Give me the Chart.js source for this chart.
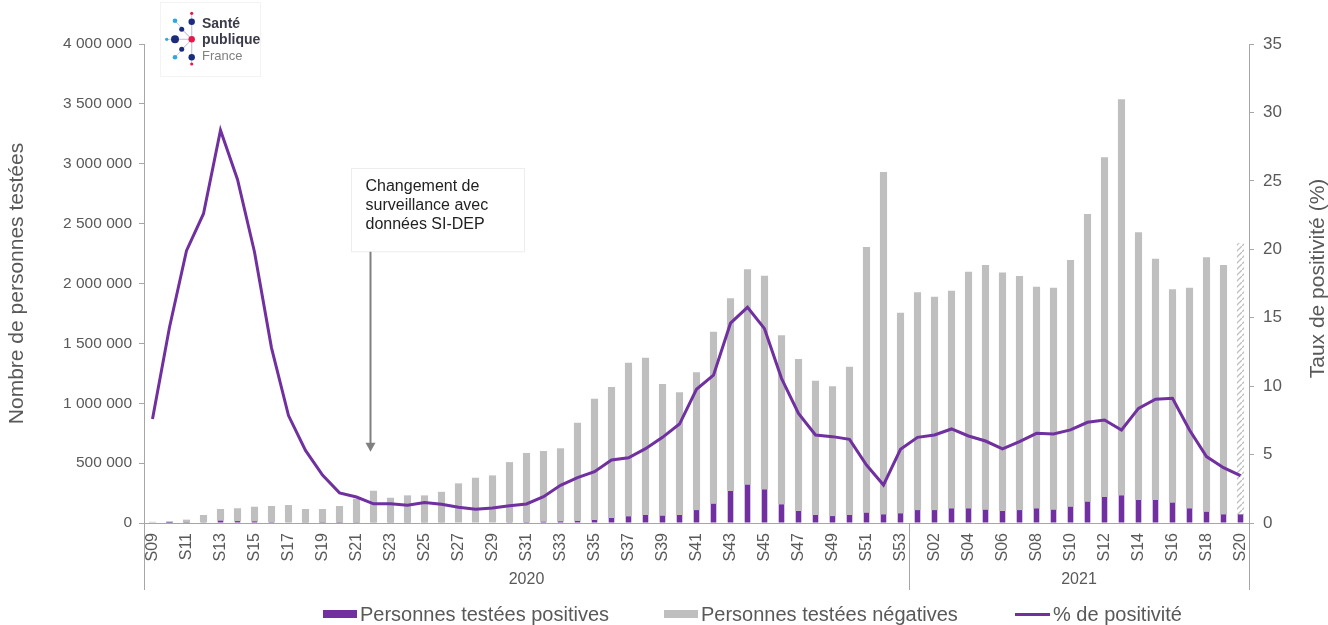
<!DOCTYPE html>
<html>
<head>
<meta charset="utf-8">
<script src="https://cdn.jsdelivr.net/npm/chart.js@4.4.0/dist/chart.umd.min.js"></script>
<style>
  body { margin: 0; background: #fff; }
  #wrap { position: relative; width: 1328px; height: 625px; }
  #legend { position: absolute; left: 0; top: 603px; width: 1328px; height: 22px;
            font: 20px 'Liberation Sans', Arial, sans-serif; color: #595959; line-height: 22px; }
  #legend .item { position: absolute; top: 0; display: flex; align-items: center; white-space: nowrap; }
  #legend .sw { width: 34px; height: 8px; margin-right: 3px; }
  #legend .ln { width: 35px; height: 3px; margin-right: 3px; background: #7030A0; }
</style>
</head>
<body>
<div id="wrap">
  <canvas id="myChart" width="1328" height="625"></canvas>
  <div id="legend">
    <div class="item" style="left:323px"><span class="sw" style="background:#7030A0"></span>Personnes testées positives</div>
    <div class="item" style="left:664px"><span class="sw" style="background:#BFBFBF"></span>Personnes testées négatives</div>
    <div class="item" style="left:1015px"><span class="ln"></span>% de positivité</div>
  </div>
</div>
<script>
// weeks: 2020 S09..S53, 2021 S01..S20
var weeks2020 = ['S09','S10','S11','S12','S13','S14','S15','S16','S17','S18','S19','S20','S21','S22','S23','S24','S25','S26','S27','S28','S29','S30','S31','S32','S33','S34','S35','S36','S37','S38','S39','S40','S41','S42','S43','S44','S45','S46','S47','S48','S49','S50','S51','S52','S53']
var weeks2021 = ['S01','S02','S03','S04','S05','S06','S07','S08','S09','S10','S11','S12','S13','S14','S15','S16','S17','S18','S19','S20']
var years = ['2020', '2021']

var positives = [
  0, 500, 2000, 6000, 20000, 16000, 14000, 8000, 5000, 3000,
  2000, 2000, 2500, 3500, 3000, 3000, 3500, 3500, 4000, 4000,
  4500, 6500, 8000, 11000, 14000, 17000, 25000, 42000, 56000, 67000,
  61000, 67000, 108000, 161000, 267000, 320000, 281000, 156000, 100000, 67000,
  58000, 67000, 86000, 72000, 81000,
  108000, 108000, 122000, 122000, 111000, 100000, 108000, 122000, 111000, 136000,
  178000, 217000, 231000, 192000, 192000, 170000, 122000, 94000, 72000, 72000
]
var negatives = [
  10000, 14500, 26000, 61000, 97000, 107000, 122000, 134000, 145000, 114000,
  115000, 140000, 200000, 266000, 208000, 228000, 227000, 257000, 327000, 374000,
  393000, 502000, 577000, 590000, 610000, 821000, 1013000, 1094000, 1283000, 1313000,
  1100000, 1024000, 1150000, 1437000, 1609000, 1799000, 1784000, 1411000, 1270000, 1121000,
  1083000, 1238000, 2219000, 2859000, 1675000,
  1819000, 1782000, 1818000, 1977000, 2044000, 1991000, 1955000, 1851000, 1854000, 2060000,
  2402000, 2837000, 3307000, 2236000, 2015000, 1782000, 1843000, 2125000, 2083000, 2264000
]
var positivite = [
  7.6, 14.3, 19.9, 22.6, 28.7, 25.1, 19.8, 12.8, 7.85, 5.3,
  3.5, 2.2, 1.9, 1.4, 1.4, 1.3, 1.5, 1.37, 1.15, 1.0,
  1.1, 1.26, 1.39, 1.92, 2.75, 3.31, 3.75, 4.6, 4.77, 5.43,
  6.26, 7.23, 9.77, 10.8, 14.6, 15.76, 14.2, 10.57, 8.0, 6.43,
  6.31, 6.11, 4.24, 2.78, 5.38,
  6.26, 6.43, 6.87, 6.36, 5.99, 5.41, 5.94, 6.55, 6.5, 6.8,
  7.36, 7.53, 6.8, 8.38, 9.04, 9.11, 6.8, 4.85, 4.04, 3.46
]

var labels = weeks2020.concat(weeks2021)
var font = "'Liberation Sans', Arial, sans-serif"
var grey = '#595959'
var axisCol = '#A6A6A6'

// hatched fill for the last (incomplete) week
var pat = document.createElement('canvas')
pat.width = 6; pat.height = 6
var pc = pat.getContext('2d')
pc.fillStyle = '#fff'; pc.fillRect(0, 0, 6, 6)
pc.strokeStyle = '#BFBFBF'; pc.lineWidth = 1.3
pc.beginPath(); pc.moveTo(0, 6); pc.lineTo(6, 0); pc.stroke()
var hatch = document.getElementById('myChart').getContext('2d').createPattern(pat, 'repeat')
var negColors = labels.map(function (l, i) { return i == labels.length - 1 ? hatch : '#BFBFBF' })

var extras = {
  id: 'extras',
  afterDatasetsDraw: function (chart) {
    var ctx = chart.ctx, a = chart.chartArea, x = chart.scales.x, y = chart.scales.y
    ctx.save()
    // annotation box + arrow
    var ax = Math.round(x.getPixelForValue(12.8)) + 0.5
    var boxTop = y.getPixelForValue(2960000), boxBot = y.getPixelForValue(2265000)
    ctx.fillStyle = '#fff'
    ctx.strokeStyle = '#EDEDED'
    ctx.lineWidth = 1
    ctx.fillRect(ax - 19, boxTop, 173, boxBot - boxTop)
    ctx.strokeRect(ax - 19, boxTop, 173, boxBot - boxTop)
    ctx.fillStyle = '#222'
    ctx.font = '16px ' + font
    ctx.textAlign = 'left'; ctx.textBaseline = 'middle'
    ;['Changement de', 'surveillance avec', 'données SI-DEP'].forEach(function (t, i) {
      ctx.fillText(t, ax - 5, boxTop + 18 + i * 19)
    })
    var tip = y.getPixelForValue(595000)
    ctx.strokeStyle = '#808080'; ctx.lineWidth = 2
    ctx.beginPath(); ctx.moveTo(ax, boxBot); ctx.lineTo(ax, tip - 8); ctx.stroke()
    ctx.fillStyle = '#808080'
    ctx.beginPath(); ctx.moveTo(ax - 5, tip - 9); ctx.lineTo(ax + 5, tip - 9); ctx.lineTo(ax, tip); ctx.closePath(); ctx.fill()
    ctx.restore()
  },
  afterDraw: function (chart) {
    var ctx = chart.ctx, a = chart.chartArea, x = chart.scales.x
    ctx.save()
    // second level of the category axis: years
    var sep = (x.getPixelForValue(weeks2020.length - 1) + x.getPixelForValue(weeks2020.length)) / 2
    ctx.strokeStyle = axisCol; ctx.lineWidth = 1
    ;[a.left, sep, a.right].forEach(function (px) {
      var p = Math.round(px) + 0.5
      ctx.beginPath(); ctx.moveTo(p, a.bottom); ctx.lineTo(p, a.bottom + 67); ctx.stroke()
    })
    ctx.fillStyle = grey
    ctx.font = '16px ' + font
    ctx.textAlign = 'center'; ctx.textBaseline = 'middle'
    ctx.fillText(years[0], (a.left + sep) / 2, a.bottom + 57)
    ctx.fillText(years[1], (sep + a.right) / 2, a.bottom + 57)
    // right axis title, reading upwards
    ctx.font = '21px ' + font
    ctx.translate(1318, (a.top + a.bottom) / 2 - 5)
    ctx.rotate(-Math.PI / 2)
    ctx.fillText('Taux de positivité (%)', 0, 0)
    ctx.restore()

    // logo
    ctx.save()
    ctx.strokeStyle = '#F3F3F3'
    ctx.strokeRect(160.5, 2.5, 100, 74)
    ctx.strokeStyle = '#C8CCE0'; ctx.lineWidth = 1
    var c = [191.7, 39.3]
    ;[[175, 20.7], [191.7, 21.7], [181.7, 29.3], [166.7, 39.3], [175, 39.3], [181.7, 49.3], [175, 57.3], [191.7, 57.3], [191.7, 13.3], [191.7, 64]].forEach(function (p) {
      ctx.beginPath(); ctx.moveTo(c[0], c[1]); ctx.lineTo(p[0], p[1]); ctx.stroke()
    })
    var dots = [
      [191.7, 13.3, 1.6, '#E6194B'], [175, 20.7, 2.3, '#2CA8E0'], [191.7, 21.7, 3.2, '#1B2C7E'],
      [181.7, 29.3, 2.5, '#1B2C7E'], [166.7, 39.3, 1.6, '#2CA8E0'], [175, 39.3, 4, '#1B2C7E'],
      [191.7, 39.3, 3.2, '#E6194B'], [181.7, 49.3, 2.5, '#1B2C7E'], [175, 57.3, 2.3, '#2CA8E0'],
      [191.7, 57.3, 3.2, '#1B2C7E'], [191.7, 64, 1.6, '#E6194B']
    ]
    dots.forEach(function (d) {
      ctx.fillStyle = d[3]; ctx.beginPath(); ctx.arc(d[0], d[1], d[2], 0, Math.PI * 2); ctx.fill()
    })
    ctx.textAlign = 'left'; ctx.textBaseline = 'middle'
    ctx.fillStyle = '#3A3A4A'
    ctx.font = "bold 14px 'Liberation Sans Narrow', 'Liberation Sans', sans-serif"
    ctx.fillText('Santé', 202, 24)
    ctx.fillText('publique', 202, 40)
    ctx.fillStyle = '#808080'
    ctx.font = "13px 'Liberation Sans Narrow', 'Liberation Sans', sans-serif"
    ctx.fillText('France', 202, 56)
    ctx.restore()
  }
}

Chart.defaults.font.family = font
Chart.defaults.color = grey

var ctx = document.getElementById('myChart').getContext('2d')
var chart = new Chart(ctx, {
  type: 'bar',
  data: {
    labels: labels,
    datasets: [{
      label: 'Personnes testées positives',
      data: positives,
      backgroundColor: '#7030A0',
      yAxisID: 'y',
      stack: 'tests',
      barPercentage: 0.33,
      categoryPercentage: 1
    }, {
      label: 'Personnes testées négatives',
      data: negatives,
      backgroundColor: negColors,
      yAxisID: 'y',
      stack: 'tests',
      barPercentage: 0.42,
      categoryPercentage: 1
    }, {
      type: 'line',
      label: '% de positivité',
      data: positivite,
      borderColor: '#7030A0',
      backgroundColor: '#7030A0',
      borderWidth: 3,
      pointRadius: 0,
      tension: 0,
      yAxisID: 'y1',
      order: -1
    }]
  },
  plugins: [extras],
  options: {
    responsive: false,
    animation: false,
    layout: { padding: { top: 44, bottom: 37, left: 0, right: 0 } },
    plugins: {
      legend: { display: false },
      tooltip: { enabled: false }
    },
    scales: {
      x: {
        stacked: true,
        offset: true,
        grid: { display: false },
        border: { display: true, color: axisCol },
        ticks: {
          autoSkip: false,
          maxRotation: 90,
          minRotation: 90,
          padding: 2,
          font: { size: 16 },
          color: grey,
          callback: function (v, i) { return i % 2 == 0 ? labels[i] : '' }
        },
        afterFit: function (s) { s.height = 65 }
      },
      y: {
        stacked: true,
        position: 'left',
        min: 0,
        max: 4000000,
        grid: { drawOnChartArea: false, tickLength: 5, color: axisCol },
        border: { color: axisCol },
        ticks: {
          stepSize: 500000,
          padding: 7,
          font: { size: 15.5 },
          color: grey,
          callback: function (v) { return String(v).replace(/\B(?=(\d{3})+(?!\d))/g, ' ') }
        },
        title: { display: true, text: 'Nombre de personnes testées', font: { size: 21 }, color: grey, padding: { top: 5, bottom: 4 } },
        afterFit: function (s) { s.width = 144 }
      },
      y1: {
        position: 'right',
        min: 0,
        max: 35,
        grid: { drawOnChartArea: false, tickLength: 5, color: axisCol },
        border: { color: axisCol },
        ticks: { stepSize: 5, padding: 9, font: { size: 17 }, color: grey },
        afterFit: function (s) { s.width = 79 }
      }
    }
  }
})
</script>
</body>
</html>
